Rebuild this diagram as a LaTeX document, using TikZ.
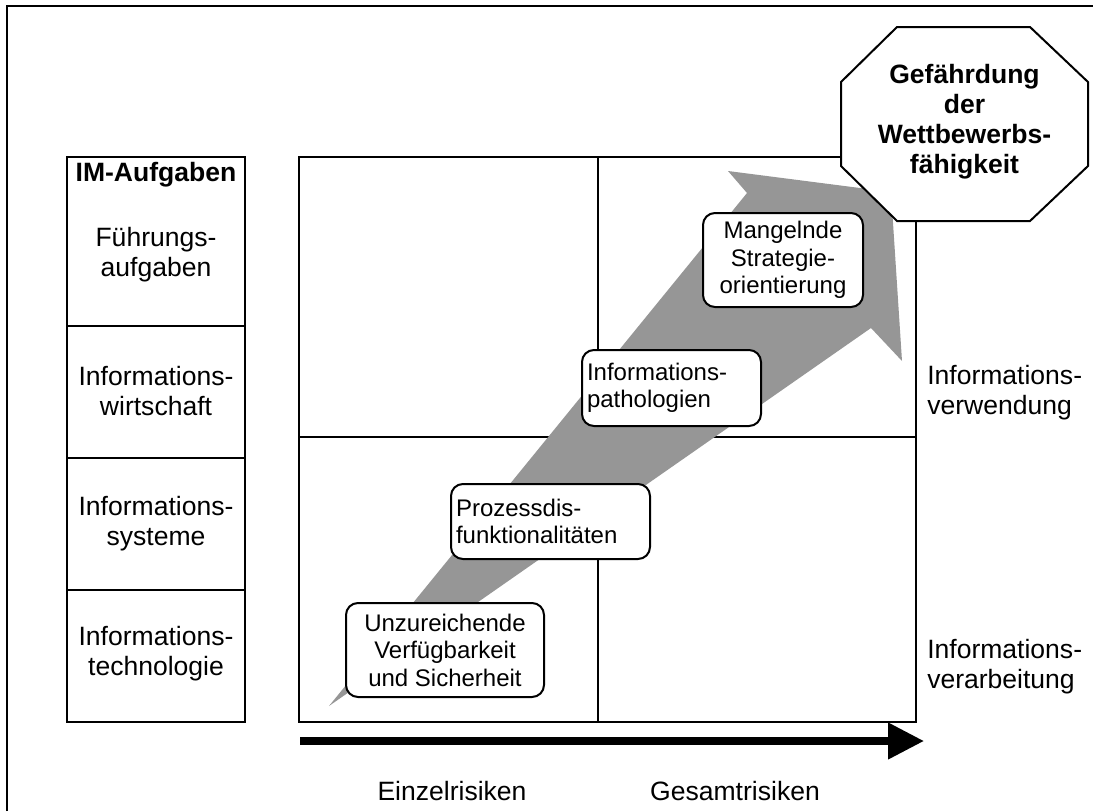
\documentclass[tikz,border=0pt]{standalone}
\usepackage{fontspec}
\setmainfont{Liberation Sans}
\usetikzlibrary{arrows.meta}

\definecolor{riskgray}{RGB}{150,150,150}

\tikzset{
  frameline/.style={line width=1.5pt},
  labeltext/.style={font=\fontsize{19.9pt}{22.5pt}\selectfont, align=center, inner sep=0pt},
  riskbox/.style={draw, line width=1.5pt, fill=white, rounded corners=9pt,
    font=\fontsize{18pt}{20.6pt}\selectfont, inner xsep=3.75pt, inner ysep=0pt},
}

\begin{document}
\begin{tikzpicture}[x=0.75pt,y=0.75pt,yscale=-1,xscale=1]
        \useasboundingbox (0,0) rectangle (1093,811);

        %Outer frame
        \draw [frameline] (7,811) -- (7,6) -- (1093,6) ;

        %Left table (IM-Aufgaben)
        \draw [frameline] (67,157) rectangle (245,722) ;
        \draw [frameline] (67,326) -- (245,326) ;
        \draw [frameline] (67,458) -- (245,458) ;
        \draw [frameline] (67,590) -- (245,590) ;
        \node [labeltext, font=\fontsize{19.9pt}{22.5pt}\selectfont\bfseries] (imaufg) at (156,175) {IM-Aufgaben};
        \node [labeltext] (fuehr) at (156,255) {Führungs-\\aufgaben};
        \node [labeltext] (iwirt) at (156,391) {Informations-\\wirtschaft};
        \node [labeltext] (isys) at (156,524) {Informations-\\systeme};
        \node [labeltext] (itech) at (156,654) {Informations-\\technologie};

        %Grid of four fields
        \draw [frameline] (299,157) rectangle (916,722) ;
        \draw [frameline] (598,157) -- (598,722) ;
        \draw [frameline] (299,437) -- (916,437) ;

        %Grey block arrow
        \fill [riskgray] (329,706) -- (747,193) -- (728,171) -- (891,192) -- (902,361) -- (871,328) -- cycle ;

        %Risk boxes
        \node [riskbox, align=center, minimum width=148.5pt, minimum height=70.5pt] (verfueg) at (445,650) {Unzureichende\\Verfügbarkeit\\und Sicherheit};
        \node [riskbox, align=left, text width=141.75pt, minimum height=56.25pt] (prozess) at (550.5,521.5) {Prozessdis-\\funktionalitäten};
        \node [riskbox, align=left, text width=126.75pt, minimum height=57pt] (patho) at (671.5,388) {Informations-\\pathologien};
        \node [riskbox, align=center, minimum width=120pt, minimum height=70.5pt] (strat) at (783,260) {Mangelnde\\Strategie-\\orientierung};

        %Octagon
        \draw [frameline, fill=white] (897,27) -- (1030,27) -- (1088,82) -- (1088,166) -- (1030,221) -- (897,221) -- (841,166) -- (841,82) -- cycle ;
        \node [labeltext, font=\fontsize{19.9pt}{22.5pt}\selectfont\bfseries] (gefahr) at (964.5,122) {Gefährdung\\der\\Wettbewerbs-\\fähigkeit};

        %Right labels
        \node [labeltext, align=left, anchor=west] (verwend) at (927,393) {Informations-\\verwendung};
        \node [labeltext, align=left, anchor=west] (verarb) at (927,667) {Informations-\\verarbeitung};

        %Bottom arrow
        \coordinate (axstart) at (300,741) ;
        \coordinate (axend) at (924,741) ;
        \draw [line width=5.6pt, -{Triangle[length=27pt, width=26.25pt]}] (axstart) -- (axend) ;
        \node [labeltext] (einzel) at (452,791) {Einzelrisiken};
        \node [labeltext] (gesamt) at (735,791) {Gesamtrisiken};
    \end{tikzpicture}
\end{document}
